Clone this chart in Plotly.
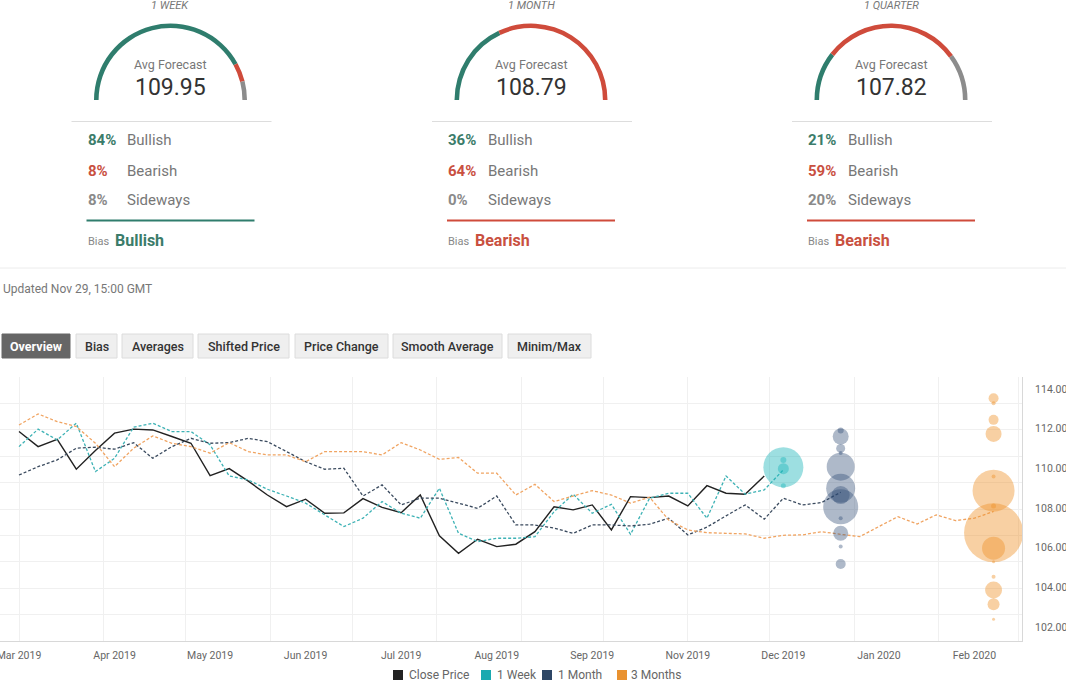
import plotly.graph_objects as go
import pandas as pd

W, H = 1066, 681

# ---------------- data ----------------
horizons = ["1 WEEK", "1 MONTH", "1 QUARTER"]
avg_forecast = [109.95, 108.79, 107.82]
bullish_pct = [84, 36, 21]
bearish_pct = [8, 64, 59]
sideways_pct = [8, 0, 20]
bias_labels = ["Bullish", "Bearish", "Bearish"]

updated_text = "Updated Nov 29, 15:00 GMT"
tab_labels = ["Overview", "Bias", "Averages", "Shifted Price",
              "Price Change", "Smooth Average", "Minim/Max"]

start_date = "2019-03-01"  # weekly (Friday) observations
close_price = [111.85, 111.09, 111.46, 109.95, 110.9, 111.77, 111.97, 111.93, 111.6, 111.26,
               109.63, 109.98, 109.35, 108.65, 108.06, 108.44, 107.73, 107.75, 108.47, 108.03,
               107.76, 108.65, 106.59, 105.71, 106.42, 106.05, 106.17, 106.8, 108.06, 107.9,
               108.15, 106.89, 108.57, 108.52, 108.6, 108.1, 109.12, 108.74, 108.69, 109.61]
week_forecast = [111.09, 111.97, 111.43, 112.27, 109.83, 110.5, 112.07, 112.27, 111.85, 111.85,
                 111.18, 109.61, 109.41, 108.94, 108.6, 108.24, 107.65, 107.06, 107.48, 108.32,
                 107.73, 107.48, 108.99, 106.72, 106.3, 106.47, 106.47, 106.55, 107.81, 108.69,
                 107.73, 108.18, 106.67, 108.49, 108.74, 108.74, 107.48, 109.61, 108.69, 108.91,
                 109.92]
month_forecast = [109.66, 110.08, 110.42, 111.01, 111.06, 110.96, 111.29, 110.5, 111.09, 111.51,
                  111.26, 111.29, 111.51, 111.34, 110.84, 110.33, 109.95, 110.0, 108.6, 109.16,
                  108.15, 108.49, 108.49, 108.24, 107.98, 108.6, 107.14, 107.14, 106.98, 106.72,
                  107.14, 107.14, 107.09, 107.18, 107.48, 106.64, 107.03, 107.6, 108.15, 107.43,
                  108.49, 108.15, 108.27, 108.79]
quarter_forecast = [112.18, 112.74, 112.35, 112.1, 111.26, 110.08, 111.01, 111.63, 111.26, 111.09,
                    110.76, 111.29, 110.84, 110.67, 110.67, 110.33, 110.84, 110.84, 110.84, 110.67,
                    111.29, 110.92, 110.45, 110.54, 109.75, 109.75, 108.65, 109.19, 108.32, 108.6,
                    108.87, 108.65, 108.24, 108.54, 107.39, 106.89, 106.75, 106.72, 106.69, 106.47,
                    106.62, 106.64, 106.8, 106.67, 106.55, 107.06, 107.56, 107.19, 107.65, 107.36,
                    107.48, 107.82]

week_bubble_date = "2019-12-06"
week_bubble_values = [110.05, 110.42, 109.98, 109.12]
week_bubble_sizes = [40, 6, 11, 5]

month_bubble_date = "2019-12-27"
month_bubble_values = [111.9, 111.6, 111.0, 110.77, 110.08, 108.99, 108.65, 108.06,
                       107.48, 106.72, 106.05, 105.17]
month_bubble_sizes = [6, 16, 9, 4, 28, 29, 18, 35, 4, 15, 4, 10]

quarter_bubble_date = "2020-02-21"
quarter_bubble_values = [113.53, 113.28, 112.44, 111.73, 109.58, 108.87, 108.1, 106.75,
                         105.97, 105.29, 104.53, 103.86, 103.14, 102.39]
quarter_bubble_sizes = [10, 4, 10, 16, 4, 42, 5, 59, 23, 3, 4, 17, 12, 3]

y_tick_values = [102, 104, 106, 108, 110, 112, 114]
series_names = ["Close Price", "1 Week", "1 Month", "3 Months"]

# ---------------- styles ----------------
GREEN, RED, GREY = "#2f7d6d", "#cf4b3b", "#8c8c8c"
GREEN_T, RED_T, GREY_T = "#3b7c6a", "#c9503f", "#8a8a8a"
legend_colors = ["#222222", "#1aa9b0", "#2d4665", "#e99230"]
line_colors = ["#222222", "#3db2b5", "#3a4a5e", "#f0a462"]
bubble_colors = ["rgba(31,181,187,0.62)", "rgba(44,74,115,0.55)", "rgba(240,147,43,0.62)"]
FONT = "Roboto"


def X(px):
    return px / W


def Y(py):
    return 1 - py / H


fig = go.Figure()
annotations = []
shapes = []


def note(px, py, text, anchor="center", **font):
    font.setdefault("family", FONT)
    annotations.append(dict(xref="paper", yref="paper", x=X(px), y=Y(py), text=text,
                            showarrow=False, xanchor=anchor, yanchor="middle", font=font))


def hline(x0, x1, py, color, width=1):
    shapes.append(dict(type="line", xref="paper", yref="paper", x0=X(x0), x1=X(x1),
                       y0=Y(py), y1=Y(py), line=dict(color=color, width=width)))


# ---------------- gauges ----------------
gauge_cx = [170.5, 531, 891]
R = 76.5
for i, cx in enumerate(gauge_cx):
    fig.add_trace(go.Pie(
        values=[bullish_pct[i], bearish_pct[i], sideways_pct[i], 100],
        marker=dict(colors=[GREEN, RED, GREY, "rgba(0,0,0,0)"], line=dict(width=0)),
        hole=0.94, sort=False, direction="clockwise", rotation=270,
        textinfo="none", hoverinfo="skip", showlegend=False,
        domain=dict(x=[X(cx - R), X(cx + R)], y=[Y(100 + R), Y(100 - R)]),
    ))
    note(cx, 5.5, horizons[i], size=11, color="#777", style="italic")
    note(cx, 64.5, "Avg Forecast", size=12.5, color="#777")
    note(cx, 87, f"{avg_forecast[i]:.2f}", size=23, color="#333")
    hline(cx - 99, cx + 101, 121.5, "#dddddd")
    rows = [(bullish_pct[i], "Bullish", GREEN_T), (bearish_pct[i], "Bearish", RED_T),
            (sideways_pct[i], "Sideways", GREY_T)]
    for j, (pct, lab, col) in enumerate(rows):
        yy = 140.5 + 30 * j
        note(cx - 85, yy, f"{pct}%", anchor="left", size=15, color=col, weight="bold")
        note(cx - 45.5, yy, lab, anchor="left", size=15, color="#777")
    bullish = bias_labels[i] == "Bullish"
    hline(cx - 84, cx + 84, 220.5, GREEN if bullish else RED, 2)
    note(cx - 85, 241.5, "Bias", anchor="left", size=11, color="#888")
    note(cx - 58, 240, bias_labels[i], anchor="left", size=16,
         color=GREEN_T if bullish else RED_T, weight="bold")

# separator + updated text
hline(0, W, 268, "#ececec")
note(1, 289, updated_text, anchor="left", size=12, color="#777")

# tabs
tab_x = [(2, 70), (76, 117), (122, 193), (198, 289), (295, 388), (393, 502), (508, 591)]
for k, (lab, (x0, x1)) in enumerate(zip(tab_labels, tab_x)):
    active = k == 0
    shapes.append(dict(type="rect", xref="paper", yref="paper",
                       x0=X(x0), x1=X(x1), y0=Y(358), y1=Y(334),
                       fillcolor="#666666" if active else "#efefef",
                       line=dict(color="#666666" if active else "#dcdcdc", width=1)))
    note((x0 + x1) / 2, 346.5, lab, size=12.5, color="#ffffff" if active else "#333",
         weight="bold" if active else 500)

# ---------------- main chart ----------------
week_dates = list(pd.date_range(start_date, periods=len(quarter_forecast), freq="7D"))

# dummy trace on the grid axes
fig.add_trace(go.Scatter(x=[start_date], y=[None], xaxis="x", yaxis="y",
                         showlegend=False, hoverinfo="skip"))

line_series = [close_price, week_forecast, month_forecast, quarter_forecast]
for name, vals, col in zip(series_names, line_series, line_colors):
    solid = name == "Close Price"
    fig.add_trace(go.Scatter(
        x=week_dates[:len(vals)], y=vals, mode="lines", name=name,
        line=dict(color=col, width=1.4 if solid else 1.3, dash="solid" if solid else "3px,2px"),
        xaxis="x2", yaxis="y2", showlegend=False))

bubble_sets = [(week_bubble_date, week_bubble_values, week_bubble_sizes),
               (month_bubble_date, month_bubble_values, month_bubble_sizes),
               (quarter_bubble_date, quarter_bubble_values, quarter_bubble_sizes)]
for (d, vals, sizes), col, name in zip(bubble_sets, bubble_colors, series_names[1:]):
    fig.add_trace(go.Scatter(
        x=[d] * len(vals), y=vals, mode="markers", name=name,
        marker=dict(size=sizes, sizemode="diameter", color=col, line=dict(width=0)),
        xaxis="x2", yaxis="y2", showlegend=False))

# legend (squares + labels along the bottom)
legend_x = [(393, 407), (481, 494.5), (542, 556), (617, 629)]
for name, col, (sx, tx) in zip(series_names, legend_colors, legend_x):
    shapes.append(dict(type="rect", xref="paper", yref="paper",
                       x0=X(sx), x1=X(sx + 10), y0=Y(680), y1=Y(670),
                       fillcolor=col, line=dict(width=0)))
    note(tx, 675, name, anchor="left", size=12, color="#666")

x_range = ["2019-02-22 01:00", "2020-03-02 10:00"]
x_dom = [0, X(1022)]
y_dom = [Y(641), Y(377)]

fig.update_layout(
    width=W, height=H,
    margin=dict(l=0, r=0, t=0, b=0, autoexpand=False),
    paper_bgcolor="white", plot_bgcolor="white",
    font=dict(family=FONT, color="#666"),
    showlegend=False,
    xaxis=dict(domain=x_dom, type="date", range=x_range, tick0="2019-03-01", dtick="M1",
               showgrid=True, gridcolor="#f0f0f0", gridwidth=1, showticklabels=False,
               zeroline=False, showline=False, anchor="y", fixedrange=True),
    yaxis=dict(domain=y_dom, range=[0, 10], dtick=1, showgrid=True, gridcolor="#f0f0f0",
               showticklabels=False, zeroline=False, showline=False, anchor="x", fixedrange=True),
    xaxis2=dict(overlaying="x", anchor="y2", type="date", range=x_range,
                tick0="2019-03-01", dtick=35 * 86400000, tickformat="%b %Y",
                showgrid=False, zeroline=False, showline=True, linecolor="#d8d8d8",
                ticks="", ticklabelstandoff=4, ticklabeloverflow="allow",
                tickfont=dict(size=10.5, color="#666", family=FONT), side="bottom"),
    yaxis2=dict(overlaying="y", anchor="x2", side="right", range=[101.29, 114.6],
                tickvals=y_tick_values, tickformat=".2f", showgrid=False, zeroline=False,
                showline=True, linecolor="#d8d8d8", ticks="", ticklabelstandoff=10,
                ticklabeloverflow="allow",
                tickfont=dict(size=10.5, color="#666", family=FONT)),
    annotations=annotations,
    shapes=shapes,
)

fig.write_html("out.html", config={"displayModeBar": False},
               post_script="document.body.style.margin='0px';document.body.style.padding='0px';")
